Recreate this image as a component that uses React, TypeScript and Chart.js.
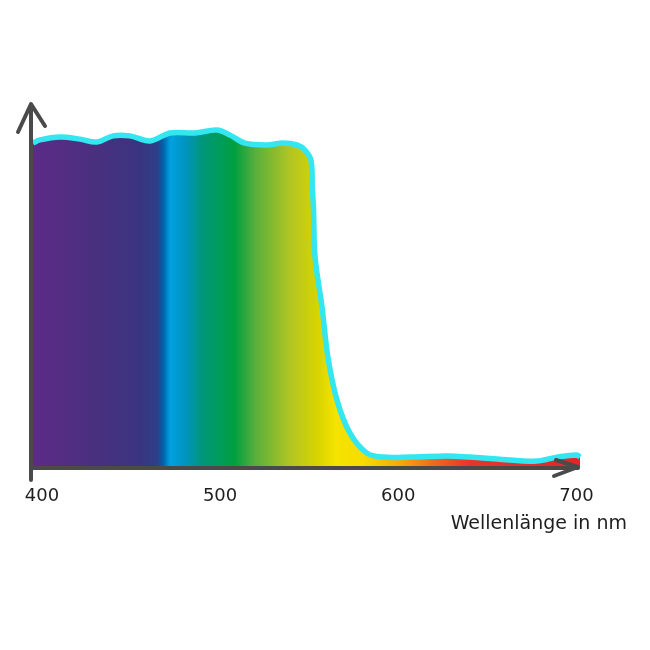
import React, { useEffect, useRef } from "react";
import { Chart, registerables } from "chart.js";

Chart.register(...registerables);

// Wavelength (nm) and relative transmission (%)
const wavelengths = [395, 398.9, 410.2, 421.4, 430.9, 439.9, 449.4, 460.7, 471.9, 485.9, 498.3, 505.6, 514.0, 526.3, 535.3, 543.1, 547.6, 551.0, 551.8, 552.4, 553.3, 557.2, 560.5, 565.6, 572.9, 582.4, 591.4, 606.6, 627.3, 640.2, 655.4, 677.8, 689.1, 700.3, 702];
const transmission = [89.5, 90.4, 91.2, 90.6, 89.8, 91.5, 91.5, 90.1, 92.3, 92.3, 93.1, 91.7, 89.5, 89.0, 89.5, 89.0, 87.6, 84.8, 76.6, 71.9, 58.1, 44.4, 30.6, 18.7, 9.6, 4.1, 3.0, 3.0, 3.3, 3.0, 2.5, 1.9, 3.0, 3.6, 3.0];
const tickValues = [400, 500, 600, 700];
const xTitle = "Wellenlänge in nm";

// Spectrum colour stops (wavelength -> colour)
const stopWavelengths = [395, 430, 455, 465, 468, 472, 480, 490, 508, 520, 540, 555, 565, 580, 600, 620, 640, 702];
const stopColors = ["#5c2b86", "#49307f", "#3a3480", "#2d4089", "#0062aa", "#00a0e0", "#0094c4", "#00967a", "#00a040", "#5aae3c", "#b4c622", "#d8d400", "#f5e300", "#f7dc00", "#f5ad08", "#ee6a1e", "#e8342a", "#e22628"];

const AXIS_COLOR = "#4a4a4a";
const FONT = "'DejaVu Sans', sans-serif";

export default function App() {
  const ref = useRef<HTMLCanvasElement | null>(null);

  useEffect(() => {
    const canvas = ref.current;
    if (!canvas) return;

    const axesPlugin = {
      id: "handAxes",
      afterDatasetsDraw(chart: any) {
        const { ctx, chartArea } = chart;
        const { left, right, bottom, top } = chartArea;
        ctx.save();
        ctx.strokeStyle = AXIS_COLOR;
        ctx.lineWidth = 4;
        ctx.lineCap = "round";
        ctx.lineJoin = "round";
        // y axis
        ctx.beginPath();
        ctx.moveTo(left - 2, bottom + 12);
        ctx.lineTo(left - 2, top);
        ctx.stroke();
        ctx.beginPath();
        ctx.moveTo(left - 15, top + 27);
        ctx.lineTo(left - 2, top - 1);
        ctx.lineTo(left + 12, top + 21);
        ctx.stroke();
        // x axis
        ctx.beginPath();
        ctx.moveTo(left - 2, bottom);
        ctx.lineTo(right - 2, bottom);
        ctx.stroke();
        ctx.beginPath();
        ctx.moveTo(right - 24, bottom - 8);
        ctx.lineTo(right - 2, bottom - 1);
        ctx.lineTo(right - 26, bottom + 8);
        ctx.stroke();
        // axis title
        ctx.fillStyle = "#1e1e1e";
        ctx.font = "19px " + FONT;
        ctx.textAlign = "right";
        ctx.textBaseline = "middle";
        ctx.fillText(xTitle, right + 47, bottom + 56);
        ctx.restore();
      },
    };

    const chart = new Chart(canvas, {
      type: "line",
      data: {
        datasets: [
          {
            data: wavelengths.map((w, i) => ({ x: w, y: transmission[i] })),
            borderColor: "#33e6ef",
            borderWidth: 5.5,
            pointRadius: 0,
            tension: 0.35,
            fill: "origin",
            clip: false as any,
            backgroundColor: (context: any) => {
              const c = context.chart;
              const area = c.chartArea;
              const xs = c.scales.x;
              if (!area || !xs) return "#5c2b86";
              const x0 = xs.getPixelForValue(stopWavelengths[0]);
              const x1 = xs.getPixelForValue(stopWavelengths[stopWavelengths.length - 1]);
              const g = c.ctx.createLinearGradient(x0, 0, x1, 0);
              stopWavelengths.forEach((w, i) => {
                const p = (xs.getPixelForValue(w) - x0) / (x1 - x0);
                g.addColorStop(Math.min(1, Math.max(0, p)), stopColors[i]);
              });
              return g;
            },
          },
        ],
      },
      options: {
        animation: false,
        responsive: true,
        maintainAspectRatio: false,
        layout: { padding: { left: 33, top: 105, right: 70, bottom: 142 } },
        plugins: { legend: { display: false }, tooltip: { enabled: false } },
        scales: {
          x: {
            type: "linear",
            min: 395,
            max: 702,
            grid: { display: false, drawTicks: false },
            border: { display: false },
            afterBuildTicks: (scale: any) => {
              scale.ticks = tickValues.map((v) => ({ value: v }));
            },
            afterFit: (scale: any) => {
              scale.height = 40;
            },
            ticks: {
              padding: 18,
              color: "#1e1e1e",
              font: { size: 18, family: FONT },
              maxRotation: 0,
              autoSkip: false,
              callback: (v: any) => String(v),
            },
          },
          y: {
            display: false,
            min: 0,
            max: 100,
          },
        },
      },
      plugins: [axesPlugin],
    });

    return () => chart.destroy();
  }, []);

  return (
    <div style={{ position: "fixed", left: 0, top: 0, width: 650, height: 650, background: "#fff" }}>
      <canvas ref={ref} />
    </div>
  );
}
